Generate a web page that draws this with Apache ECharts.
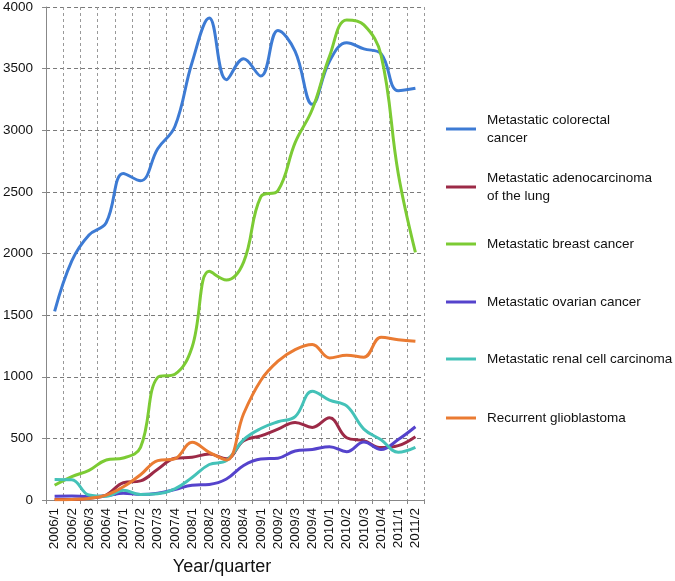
<!DOCTYPE html>
<html><head><meta charset="utf-8">
<script src="https://cdn.jsdelivr.net/npm/echarts@6/dist/echarts.min.js"></script>
<style>html,body{margin:0;padding:0;background:#fff}#c{width:675px;height:581px}</style>
</head><body><div id="c"></div>
<script>
var categories = ['2006/1','2006/2','2006/3','2006/4','2007/1','2007/2','2007/3','2007/4','2008/1','2008/2','2008/3','2008/4','2009/1','2009/2','2009/3','2009/4','2010/1','2010/2','2010/3','2010/4','2011/1','2011/2'];
var colorectal = [1530,1940,2150,2250,2650,2590,2850,3030,3550,3910,3410,3580,3440,3810,3640,3210,3560,3710,3660,3620,3320,3340];
var lung = [5,5,15,40,140,155,250,338,347,373,335,480,520,575,629,589,667,505,481,425,441,514];
var breast = [120,190,240,325,341,427,995,1020,1240,1855,1785,1930,2460,2510,2900,3170,3600,3895,3855,3610,2650,2010];
var ovarian = [30,32,28,35,55,45,55,85,120,126,170,280,333,339,398,410,433,392,470,410,490,594];
var renal = [167,165,40,30,80,45,50,90,183,288,320,490,580,635,676,882,810,763,575,488,387,427];
var glioblastoma = [3,5,13,40,107,205,320,335,468,387,325,700,970,1126,1220,1261,1153,1175,1159,1320,1301,1288];
var yTicks = {min:0, max:4000, interval:500};
var seriesNames = ['Metastatic colorectal cancer','Metastatic adenocarcinoma of the lung','Metastatic breast cancer','Metastatic ovarian cancer','Metastatic renal cell carcinoma','Recurrent glioblastoma'];
var legendLabels = ['Metastatic colorectal\ncancer','Metastatic adenocarcinoma\nof the lung','Metastatic breast cancer','Metastatic ovarian cancer','Metastatic renal cell carcinoma','Recurrent glioblastoma'];
var colors = ['#3d7bd4','#9c2a47','#7ccb34','#5543cc','#44c2b8','#ea7b32'];
var values = [colorectal, lung, breast, ovarian, renal, glioblastoma];

var font = 'Liberation Sans, Arial, sans-serif';
var legendCenters = [129,187,244,302,359,418];
var legends = seriesNames.map(function(n,i){
  var twoLine = legendLabels[i].indexOf('\n') >= 0;
  return {
    orient:'vertical', left: 441, top: legendCenters[i] - (twoLine ? 32 : 14),
    data:[n], icon:'rect', itemWidth:30, itemHeight:3,
    formatter: function(){ return legendLabels[i]; },
    selectedMode:false,
    textStyle:{fontFamily:font, fontSize:13.5, color:'#111', lineHeight:18, padding: twoLine ? [18,0,0,6] : [0,0,0,6]}
  };
});

var chart = echarts.init(document.getElementById('c'), null, {renderer:'canvas'});
chart.setOption({
  animation:false,
  color: colors,
  grid:{left:43, right:251, top:6, bottom:78, containLabel:false},
  legend: legends,
  xAxis:{
    type:'category', data:categories, boundaryGap:true,
    name:'Year/quarter', nameLocation:'middle', nameGap:58,
    nameTextStyle:{fontFamily:font, fontSize:18, color:'#111', padding:[0,26,0,0]},
    axisLine:{lineStyle:{color:'#888', width:1}},
    axisTick:{show:true, length:4, lineStyle:{color:'#888'}},
    axisLabel:{rotate:90, fontFamily:font, fontSize:13.5, color:'#111', margin:8, interval:0},
    splitLine:{show:true, lineStyle:{color:'#999', type:[3,3], width:1}}
  },
  yAxis:{
    type:'value', min:yTicks.min, max:yTicks.max, interval:yTicks.interval,
    axisLine:{show:true, lineStyle:{color:'#888', width:1}},
    axisTick:{show:true, length:4, lineStyle:{color:'#888'}},
    axisLabel:{fontFamily:font, fontSize:13.5, color:'#111', margin:13, formatter:function(v){return String(v);}},
    splitLine:{show:true, lineStyle:{color:'#7a7a7a', type:[4,3], width:1}}
  },
  series: values.map(function(v,i){
    return {name:seriesNames[i], type:'line', data:v, smooth:0.4, symbol:'none',
      lineStyle:{width:3, color:colors[i]}, itemStyle:{color:colors[i]}};
  })
});
</script></body></html>
